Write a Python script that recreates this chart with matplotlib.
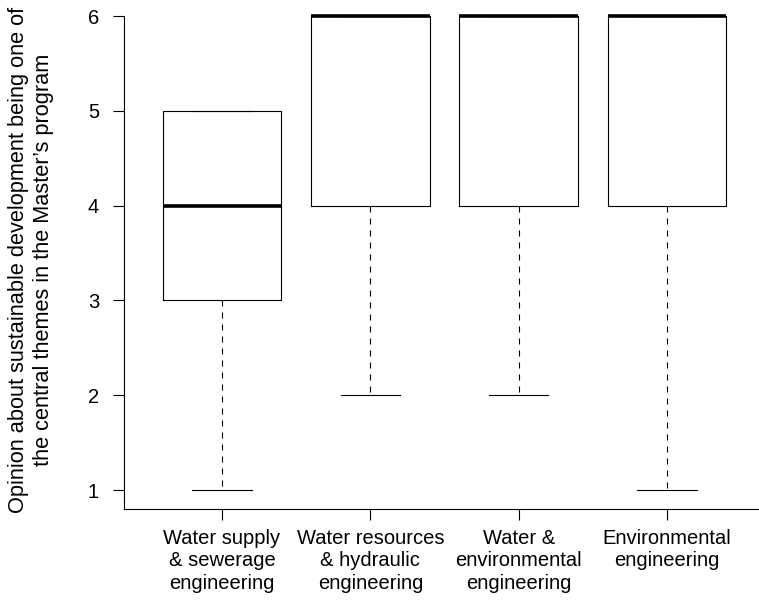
import matplotlib
matplotlib.use("Agg")
import matplotlib.pyplot as plt

plt.rcParams["font.family"] = ["Liberation Sans", "DejaVu Sans"]

# five-number summaries
categories = [
    "Water supply\n& sewerage\nengineering",
    "Water resources\n& hydraulic\nengineering",
    "Water &\nenvironmental\nengineering",
    "Environmental\nengineering",
]
whisker_low = [1, 2, 2, 1]
q1 = [3, 4, 4, 4]
median = [4, 6, 6, 6]
q3 = [5, 6, 6, 6]
whisker_high = [5, 6, 6, 6]
y_ticks = [1, 2, 3, 4, 5, 6]
y_label = ("Opinion about sustainable development being one of\n"
           "the central themes in the Master\u2019s program")

stats = [
    {"whislo": lo, "q1": a, "med": m, "q3": b, "whishi": hi, "fliers": []}
    for lo, a, m, b, hi in zip(whisker_low, q1, median, q3, whisker_high)
]

W, H = 759, 602
FS = 14.5
fig = plt.figure(figsize=(W / 100, H / 100), dpi=100)
ax = fig.add_axes([124 / W, 1 - 509 / H, 1 - 124 / W, (509 - 16) / H])

positions = list(range(1, len(categories) + 1))
ax.bxp(
    stats,
    positions=positions,
    widths=0.8,
    capwidths=0.4,
    showfliers=False,
    boxprops=dict(color="black", linewidth=0.8),
    whiskerprops=dict(color="black", linewidth=0.8, linestyle=(0, (5.4, 5.4))),
    capprops=dict(color="black", linewidth=0.8),
    medianprops=dict(color="black", linewidth=2.6, solid_capstyle="butt"),
)
for art in ax.lines + ax.patches:
    art.set_clip_on(False)

ax.set_xlim(0.339, 4.62)
ax.set_ylim(0.8, 6)

ax.spines["top"].set_visible(False)
ax.spines["right"].set_visible(False)
ax.spines["left"].set_linewidth(0.8)
ax.spines["bottom"].set_linewidth(0.8)

ax.set_yticks(y_ticks)
ax.set_yticklabels([str(v) for v in y_ticks])
ax.set_xticks(positions)
ax.set_xticklabels(categories, linespacing=1.23)
ax.tick_params(axis="y", length=8, width=0.8, pad=10, labelsize=FS)
ax.tick_params(axis="x", length=8, width=0.8, pad=6.2, labelsize=FS)

fig.text(31.5 / W, 1 - 260 / H, y_label, rotation=90, ha="center", va="center",
         multialignment="center", fontsize=15.7, linespacing=1.25)

fig.savefig("out.png", dpi=100)
